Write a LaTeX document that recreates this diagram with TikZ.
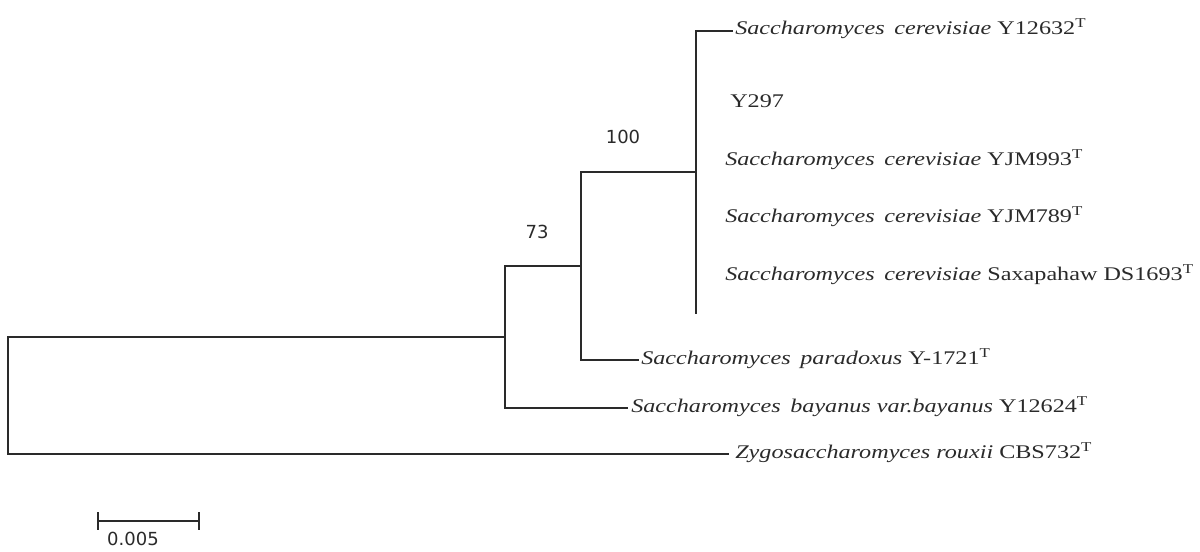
\documentclass[tikz,border=0pt]{standalone}
\usepackage{fontspec}
\setmainfont[FakeStretch=1.25]{Liberation Serif}
\newfontfamily\numfont{DejaVu Sans}
\usetikzlibrary{calc}
\definecolor{ink}{HTML}{2A2A2A}
\begin{document}
\begin{tikzpicture}[x=0.75pt,y=-0.75pt,
  branch/.style={line width=1pt, draw=ink, line cap=rect},
  leaflabel/.style={anchor=base west, inner sep=0pt, text=ink, font=\fontsize{14.5}{16}\selectfont},
  support/.style={inner sep=0pt, text=ink, font=\numfont\fontsize{13.5}{15}\selectfont}]
\useasboundingbox (0,0) rectangle (1200,551);

% internal nodes
\coordinate (R) at (8,337);
\coordinate (Rb) at (8,454);
\coordinate (A) at (505,337);
\coordinate (At) at (505,266);
\coordinate (Ab) at (505,408);
\coordinate (B) at (581,266);
\coordinate (Bt) at (581,172);
\coordinate (Bb) at (581,360);
\coordinate (C) at (696,172);
\coordinate (Ct) at (696,31);
\coordinate (Cb) at (696,313);

% leaf ends
\coordinate (e1) at (732,31);
\coordinate (e6) at (638,360);
\coordinate (e7) at (627,408);
\coordinate (e8) at (728,454);

% labels
\node[leaflabel] (t1) at (735,34) {\textit{Saccharomyces\enspace cerevisiae} Y12632\textsuperscript{T}};
\node[leaflabel] (t2) at (730,107) {Y297};
\node[leaflabel] (t3) at (725,165) {\textit{Saccharomyces\enspace cerevisiae} YJM993\textsuperscript{T}};
\node[leaflabel] (t4) at (725,222) {\textit{Saccharomyces\enspace cerevisiae} YJM789\textsuperscript{T}};
\node[leaflabel] (t5) at (725,280) {\textit{Saccharomyces\enspace cerevisiae} Saxapahaw DS1693\textsuperscript{T}};
\node[leaflabel] (t6) at (641,364) {\textit{Saccharomyces\enspace paradoxus} Y-1721\textsuperscript{T}};
\node[leaflabel] (t7) at (631,412) {\textit{Saccharomyces\enspace bayanus var.bayanus} Y12624\textsuperscript{T}};
\node[leaflabel] (t8) at (735,458) {\textit{Zygosaccharomyces rouxii} CBS732\textsuperscript{T}};

% support values
\node[support] (s73) at (537,232) {73};
\node[support] (s100) at (623,137) {100};

% tree
\draw[branch] (Rb) -- (R) -- (A);
\draw[branch] (Rb) -- (e8);
\draw[branch] (At) -- (Ab);
\draw[branch] (At) -- (B);
\draw[branch] (Ab) -- (e7);
\draw[branch] (Bt) -- (Bb);
\draw[branch] (Bt) -- (C);
\draw[branch] (Bb) -- (e6);
\draw[branch] (Ct) -- (Cb);
\draw[branch] (Ct) -- (e1);

% scale bar
\coordinate (sbl) at (98,521);
\coordinate (sbr) at (199,521);
\draw[branch] (sbl) -- (sbr);
\draw[branch, line cap=butt] ($(sbl)+(0,-9)$) -- ($(sbl)+(0,9)$);
\draw[branch, line cap=butt] ($(sbr)+(0,-9)$) -- ($(sbr)+(0,9)$);
\node[support, font=\numfont\fontsize{13.5}{15}\selectfont] (sblabel) at (133,539) {0.005};
\end{tikzpicture}
\end{document}
